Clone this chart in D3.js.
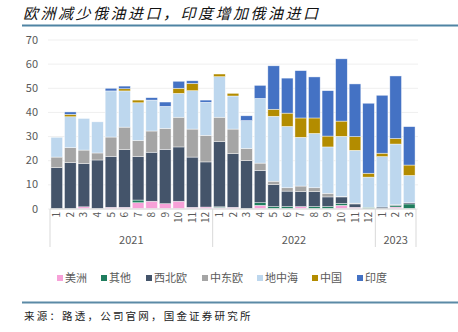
<!DOCTYPE html>
<head><meta charset="utf-8"/></head>
<style>
body { margin: 0; background: #fff; }
svg { font-family: "Noto Sans CJK SC", "Noto Sans", sans-serif; }
.tick-label { fill: #595959; font-size: 11px; }
.legend-text { fill: #595959; font-size: 11px; }
</style>
<script src="https://d3js.org/d3.v7.min.js"></script>
<body>
<div id="chart"></div>
</body>
<script>

var width = 458, height = 332;

// months 2021-01 .. 2023-03
var months = ["1","2","3","4","5","6","7","8","9","10","11","12",
              "1","2","3","4","5","6","7","8","9","10","11","12",
              "1","2","3"];
var years = ["2021", "2022", "2023"];
var yearCounts = [12, 12, 3];

var seriesNames = ["美洲", "其他", "西北欧", "中东欧", "地中海", "中国", "印度"];
var seriesColors = ["#f7a1d8", "#1f7d5e", "#44546a", "#a5a5a5", "#bdd7ee", "#b38c00", "#4472c4"];

var america  = [0,0,0.7,0,0.5,0.5,2.4,3.0,2.0,3.0,0.5,0.6, 0.4,0.5,0,1.3,0,0,0.8,0,0,1.3,0.5,0, 0,0.6,0];
var other    = [0,0,0,0,0,0,1.1,0,0,0,0,0, 0.3,0,0,1.1,0.8,0.8,0,0.8,0.8,0.8,0,0.5, 0,0.7,1.9];
var nwEurope = [16.9,19.0,17.9,20.1,21.1,23.9,18.0,20.3,22.5,22.5,20.8,18.7, 27.0,22.2,19.8,13.4,9.1,6.4,6.2,6.2,4.0,2.7,1.4,0, 0.6,0.3,0.5];
var ceEurope = [4.4,6.2,5.6,2.9,8.0,9.3,6.7,8.8,8.7,12.3,11.6,11.0, 10.1,10.2,5.1,3.0,1.4,1.4,2.3,1.6,1.5,0.2,0.3,0, 0,0,0];
var med      = [8.2,12.8,13.1,12.9,19.1,15.0,15.6,12.8,9.1,9.9,15.9,13.7, 16.8,13.7,11.5,26.8,26.9,25.4,20.2,22.5,19.2,24.9,21.9,12.5, 20.9,25.1,11.3];
var china    = [0,1.0,0,0,0,0.9,1.1,0,0,2.1,3.0,0, 1.1,1.1,0,0,2.9,5.5,8.0,6.4,4.5,6.3,5.7,1.6, 1.4,2.3,4.3];
var india    = [0,1.0,0,0,1.1,1.1,0,1.0,1.8,2.9,1.1,0.9, 0,0,2.0,5.4,18.0,14.5,19.6,17.0,18.8,25.8,21.8,29.0, 24.0,25.9,15.9];

var yTicks = [0, 10, 20, 30, 40, 50, 60, 70];

var allSeries = [america, other, nwEurope, ceEurope, med, china, india];

var table = months.map(function(m, i) {
    var row = {idx: i};
    seriesNames.forEach(function(s, k) { row[s] = allSeries[k][i]; });
    return row;
});

var svg = d3.select("#chart").append("svg")
    .attr("width", width)
    .attr("height", height);

// title
svg.append("text")
    .attr("x", 23)
    .attr("y", 19)
    .style("font-size", "15px")
    .style("font-style", "italic")
    .style("letter-spacing", "2.5px")
    .style("fill", "#111")
    .text("欧洲减少俄油进口，印度增加俄油进口");

svg.append("line")
    .attr("x1", 22).attr("x2", 458)
    .attr("y1", 25.5).attr("y2", 25.5)
    .style("stroke", "#4f84a3")
    .style("stroke-width", 2);

var x = d3.scaleBand()
    .domain(d3.range(months.length))
    .range([50, 416])
    .paddingInner(0.14)
    .paddingOuter(0.07);

var y = d3.scaleLinear()
    .domain([0, 70])
    .range([208.5, 39.5]);

// gridlines
svg.append("g").selectAll("line")
    .data(yTicks)
    .enter().append("line")
    .attr("x1", 48).attr("x2", 418)
    .attr("y1", function(d) { return y(d) + 0.5; })
    .attr("y2", function(d) { return y(d) + 0.5; })
    .style("stroke", "#efefef")
    .style("stroke-width", 1);

// y labels
svg.append("g").selectAll("text")
    .data(yTicks)
    .enter().append("text")
    .attr("class", "tick-label")
    .attr("x", 38)
    .attr("y", function(d) { return y(d) + 4; })
    .attr("text-anchor", "end")
    .text(function(d) { return d; });

var stack = d3.stack().keys(seriesNames);
var stacked = stack(table);

svg.append("g").selectAll("g")
    .data(stacked)
    .enter().append("g")
    .style("fill", function(d, i) { return seriesColors[i]; })
    .selectAll("rect")
    .data(function(d) { return d; })
    .enter().append("rect")
    .attr("x", function(d) { return x(d.data.idx); })
    .attr("width", x.bandwidth())
    .attr("y", function(d) { return y(d[1]); })
    .attr("height", function(d) { return Math.max(0, y(d[0]) - y(d[1])); })
    .style("stroke", "#fff")
    .style("stroke-opacity", 0.7)
    .style("stroke-width", 0.6);

// x axis baseline
svg.append("line")
    .attr("x1", 50).attr("x2", 416)
    .attr("y1", 209).attr("y2", 209)
    .style("stroke", "#d9d9d9");

// month labels, rotated
svg.append("g").selectAll("text")
    .data(months)
    .enter().append("text")
    .attr("class", "tick-label")
    .style("font-size", "10px")
    .attr("transform", function(d, i) {
        return "translate(" + (x(i) + x.bandwidth() / 2 + 3.5) + ",212) rotate(-90)";
    })
    .attr("text-anchor", "end")
    .text(function(d) { return d; });

// year groups
var starts = [0];
yearCounts.forEach(function(c, i) { starts.push(starts[i] + c); });
var step = x.step();
var x0 = 50;

svg.append("g").selectAll("line")
    .data(starts)
    .enter().append("line")
    .attr("x1", function(d) { return x0 + d * step; })
    .attr("x2", function(d) { return x0 + d * step; })
    .attr("y1", 209).attr("y2", 247)
    .style("stroke", "#d9d9d9");

svg.append("g").selectAll("text")
    .data(years)
    .enter().append("text")
    .attr("class", "tick-label")
    .attr("x", function(d, i) { return x0 + (starts[i] + yearCounts[i] / 2) * step; })
    .attr("y", 244)
    .attr("text-anchor", "middle")
    .text(function(d) { return d; });

// legend
var legendX = [57, 101, 146, 202, 257, 312, 357];
var legend = svg.append("g").selectAll("g")
    .data(seriesNames)
    .enter().append("g")
    .attr("transform", function(d, i) { return "translate(" + legendX[i] + ",275)"; });

legend.append("rect")
    .attr("width", 6).attr("height", 6)
    .style("fill", function(d, i) { return seriesColors[i]; });

legend.append("text")
    .attr("class", "legend-text")
    .attr("x", 8)
    .attr("y", 7)
    .text(function(d) { return d; });

// source
svg.append("line")
    .attr("x1", 22).attr("x2", 458)
    .attr("y1", 302.5).attr("y2", 302.5)
    .style("stroke", "#5b8aa6")
    .style("stroke-width", 2);

svg.append("text")
    .attr("x", 24)
    .attr("y", 320)
    .style("font-size", "10.5px")
    .style("letter-spacing", "2.2px")
    .style("fill", "#222")
    .text("来源：路透，公司官网，国金证券研究所");

</script>
